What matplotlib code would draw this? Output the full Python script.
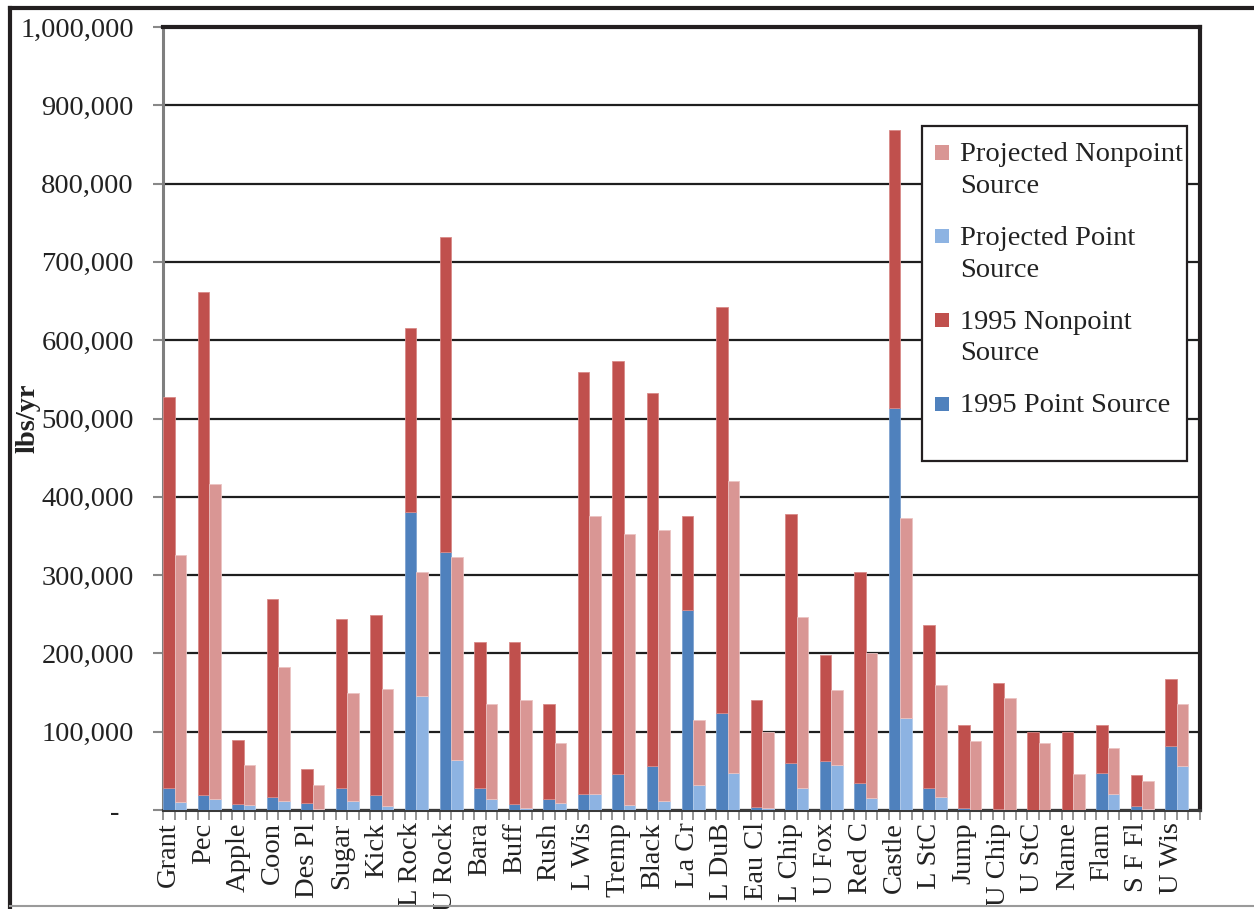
import matplotlib
matplotlib.use("Agg")
import matplotlib.pyplot as plt
from matplotlib.patches import Rectangle, Patch
from matplotlib.lines import Line2D
from matplotlib.ticker import FixedLocator, FuncFormatter
from matplotlib.legend_handler import HandlerPatch
import numpy as np

categories = ["Grant", "Pec", "Apple", "Coon", "Des Pl", "Sugar", "Kick", "L Rock",
              "U Rock", "Bara", "Buff", "Rush", "L Wis", "Tremp", "Black", "La Cr",
              "L DuB", "Eau Cl", "L Chip", "U Fox", "Red C", "Castle", "L StC", "Jump",
              "U Chip", "U StC", "Name", "Flam", "S F Fl", "U Wis"]

point_1995 = [27500, 19500, 7500, 16000, 8500, 27500, 19500, 380000,
              330000, 28000, 7500, 13500, 21000, 45500, 56000, 255000,
              124000, 3500, 60000, 62000, 35000, 514000, 27500, 3000,
              1000, 500, 500, 47000, 5000, 82000]
nonpoint_1995 = [499500, 642500, 82500, 254000, 43500, 216500, 229500, 236000,
                 402000, 186500, 206500, 121500, 539000, 527500, 477000, 120000,
                 519000, 137500, 317500, 135500, 269000, 354000, 208500, 105000,
                 161000, 99500, 99000, 61500, 39500, 85000]
point_proj = [10000, 14000, 6500, 12000, 1000, 11000, 5000, 146000,
              64000, 13500, 2500, 8500, 21000, 6000, 11500, 31500,
              47000, 2000, 27500, 57000, 15000, 118000, 16000, 500,
              500, 500, 500, 21000, 1000, 56500]
nonpoint_proj = [316000, 402000, 51500, 170000, 31000, 138000, 150000, 157500,
                 259500, 121500, 137500, 77500, 355000, 346000, 345500, 83500,
                 373000, 97500, 219000, 96000, 185000, 254500, 144000, 87500,
                 142000, 84500, 45500, 58000, 35500, 79500]

legend_labels = ["Projected Nonpoint\nSource", "Projected Point\nSource",
                 "1995 Nonpoint\nSource", "1995 Point Source\n "]
y_ticks = [0, 100000, 200000, 300000, 400000, 500000, 600000, 700000, 800000, 900000, 1000000]

c_p95 = "#4F81BD"
c_np95 = "#C0504D"
c_pp = "#8DB3E2"
c_npp = "#D99694"

FONT = ["Liberation Serif", "DejaVu Serif"]
plt.rcParams['font.family'] = FONT
FS = 20.5


class TopSquare(HandlerPatch):
    def create_artists(self, legend, orig_handle, xdescent, ydescent, width, height, fontsize, trans):
        s = 0.5 * fontsize
        p = Rectangle((-xdescent, -ydescent + height - s + 0.13 * fontsize), s, s,
                      facecolor=orig_handle.get_facecolor(), edgecolor="none")
        p.set_transform(trans)
        return [p]


fig = plt.figure(figsize=(12.54, 9.09), dpi=100)
ax = fig.add_axes([163/1254, 1 - 810/909, (1200-163)/1254, (810-27)/909])

n = len(categories)
x95 = np.arange(n) * 3 + 0.5
xpr = np.arange(n) * 3 + 1.5

ax.bar(x95, point_1995, width=1.0, color=c_p95, edgecolor="#7FA3D0", linewidth=0.6, zorder=3)
ax.bar(x95, nonpoint_1995, width=1.0, bottom=point_1995, color=c_np95, edgecolor="#D98A88", linewidth=0.6, zorder=3)
ax.bar(xpr, point_proj, width=1.0, color=c_pp, edgecolor="#B5CDEB", linewidth=0.6, zorder=3)
ax.bar(xpr, nonpoint_proj, width=1.0, bottom=point_proj, color=c_npp, edgecolor="#EBC3C2", linewidth=0.6, zorder=3)

ax.set_xlim(0, n * 3)
ax.set_ylim(0, 1000000)

ax.set_yticks(y_ticks)
ax.yaxis.set_major_formatter(FuncFormatter(lambda v, p: "-  " if v == 0 else f"{int(v):,}"))
ax.tick_params(axis='y', length=7, width=1.5, color="#888888", pad=14, labelsize=FS, labelcolor="#222222")
ax.grid(axis='y', color="#1e1e1e", linewidth=1.6, zorder=0)
ax.set_axisbelow(True)

ax.set_xticks(x95)
ax.set_xticklabels(categories, rotation=90, fontsize=FS, color="#222222")
ax.tick_params(axis='x', which='major', length=0, pad=9)
ax.xaxis.set_minor_locator(FixedLocator(np.arange(0, n * 3 + 1)))
ax.tick_params(axis='x', which='minor', length=7, width=1.3, color="#8c8c8c")

for s in ["top", "right"]:
    ax.spines[s].set_linewidth(3.0)
    ax.spines[s].set_color("#231f20")
ax.spines["left"].set_linewidth(2.2)
ax.spines["left"].set_color("#7f7f7f")
ax.spines["bottom"].set_linewidth(2.2)
ax.spines["bottom"].set_color("#3a3a3a")

ax.set_ylabel("lbs/yr", fontsize=FS, fontweight="bold", color="#222222")
ax.yaxis.set_label_coords(-0.118, 0.5)

# legend frame
x0 = (922 - 163) / 1037
y0 = (810 - 461) / 783
w = (1187 - 922) / 1037
h = (461 - 126) / 783
ax.add_patch(Rectangle((x0, y0), w, h, transform=ax.transAxes, facecolor="white",
                       edgecolor="#231f20", linewidth=1.6, zorder=5))
handles = [Patch(facecolor=c_npp), Patch(facecolor=c_pp), Patch(facecolor=c_np95), Patch(facecolor=c_p95)]
leg = ax.legend(handles, legend_labels, loc="upper left", bbox_to_anchor=(x0 + 0.004, y0 + h - 0.010),
                frameon=False, fontsize=FS, handlelength=0.55, handleheight=2.0, handletextpad=0.35,
                labelspacing=0.95, borderaxespad=0.0, borderpad=0.3,
                handler_map={Patch: TopSquare()})
for t in leg.get_texts():
    t.set_color("#222222")
    t.set_linespacing(1.35)
leg.set_zorder(6)

# outer border
fig.add_artist(Line2D([10/1254, 10/1254], [0, 1 - 8/909], transform=fig.transFigure, color="#231f20", linewidth=3))
fig.add_artist(Line2D([10/1254, 1], [1 - 8/909, 1 - 8/909], transform=fig.transFigure, color="#231f20", linewidth=3))
fig.add_artist(Line2D([10/1254, 1], [1 - 906/909, 1 - 906/909], transform=fig.transFigure, color="#9a9a9a", linewidth=1.5))

fig.savefig("out.png", dpi=100, facecolor="white")
